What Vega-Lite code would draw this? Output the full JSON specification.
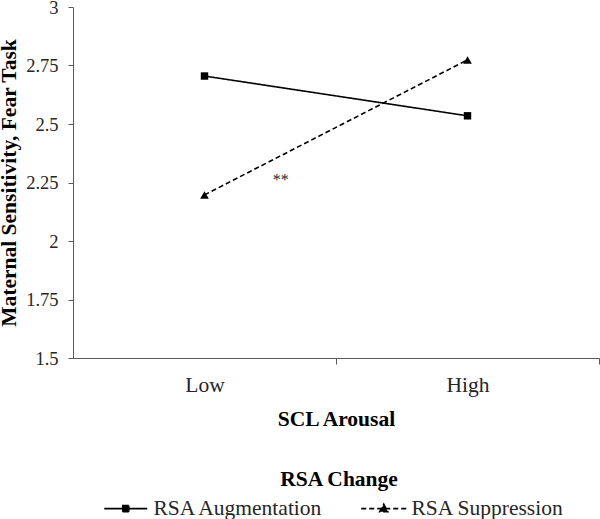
{
  "$schema": "https://vega.github.io/schema/vega-lite/v6.json",
  "width": 526,
  "height": 351,
  "autosize": "none",
  "padding": {"left": 73, "top": 7, "right": 1, "bottom": 161},
  "config": {
    "view": {"stroke": null},
    "font": "Liberation Serif",
    "axis": {
      "grid": false,
      "domainColor": "#595959",
      "tickColor": "#595959",
      "labelColor": "#262626",
      "labelFont": "Liberation Serif",
      "titleFont": "Liberation Serif",
      "titleColor": "black",
      "titleFontWeight": "bold"
    }
  },
  "data": {
    "values": [
      {"series": "RSA Augmentation", "arousal": "Low", "pos": 0.5, "value": 2.705},
      {"series": "RSA Augmentation", "arousal": "High", "pos": 1.5, "value": 2.535},
      {"series": "RSA Suppression", "arousal": "Low", "pos": 0.5, "value": 2.197},
      {"series": "RSA Suppression", "arousal": "High", "pos": 1.5, "value": 2.774}
    ]
  },
  "layer": [
    {
      "mark": {"type": "line", "color": "black", "strokeWidth": 1.6},
      "encoding": {
        "x": {
          "field": "pos",
          "type": "quantitative",
          "scale": {"domain": [0, 2], "nice": false, "zero": false},
          "axis": {
            "title": "SCL Arousal",
            "values": [0.5, 1, 1.5, 2],
            "labelExpr": "datum.value == 0.5 ? 'Low' : datum.value == 1.5 ? 'High' : ''",
            "tickOpacity": {"condition": {"test": "datum.value == 1 || datum.value == 2", "value": 1}, "value": 0},
            "tickSize": 6,
            "labelFontSize": 21.5,
            "labelPadding": 10,
            "labelFlush": false,
            "labelOverlap": false,
            "titleFontSize": 21.5,
            "titlePadding": 13
          }
        },
        "y": {
          "field": "value",
          "type": "quantitative",
          "scale": {"domain": [1.5, 3], "nice": false, "zero": false},
          "axis": {
            "title": "Maternal Sensitivity, Fear Task",
            "values": [1.5, 1.75, 2, 2.25, 2.5, 2.75, 3],
            "labelExpr": "datum.value",
            "tickSize": 5,
            "labelFontSize": 18.5,
            "labelPadding": 10,
            "labelFlush": false,
            "labelOverlap": false,
            "titleFontSize": 21.5,
            "titlePadding": 5
          }
        },
        "strokeDash": {
          "field": "series",
          "type": "nominal",
          "scale": {"domain": ["RSA Augmentation", "RSA Suppression"], "range": [[1, 0], [5, 3]]},
          "legend": {
            "orient": "none",
            "legendX": 42,
            "legendY": 462,
            "direction": "horizontal",
            "title": "RSA Change",
            "titleFontSize": 21.5,
            "titleFontWeight": "bold",
            "titleColor": "black",
            "titleAnchor": "middle",
            "titlePadding": 7,
            "labelFontSize": 21.5,
            "labelColor": "#262626",
            "labelLimit": 400,
            "labelOffset": 17,
            "columnPadding": 34,
            "symbolSize": 100,
            "symbolStrokeWidth": 1.6,
            "symbolStrokeColor": "black",
            "encode": {
              "symbols": {
                "update": {
                  "shape": {"signal": "datum.value === 'RSA Augmentation' ? 'M-4.3,0L4.3,0M-0.6,-0.6L0.6,-0.6L0.6,0.6L-0.6,0.6Z' : 'M-4.5,0L4.5,0M0,-0.9L0.8,0.6L-0.8,0.6Z'"},
                  "size": {"value": 100},
                  "fill": {"value": "black"},
                  "stroke": {"value": "black"},
                  "strokeWidth": {"value": 1.6},
                  "strokeOpacity": {"value": 1},
                  "opacity": {"value": 1}
                }
              }
            }
          }
        }
      }
    },
    {
      "transform": [{"filter": "datum.series === 'RSA Augmentation'"}],
      "mark": {"type": "point", "shape": "square", "size": 55, "filled": true, "color": "black", "opacity": 1},
      "encoding": {
        "x": {"field": "pos", "type": "quantitative"},
        "y": {"field": "value", "type": "quantitative"}
      }
    },
    {
      "transform": [{"filter": "datum.series === 'RSA Suppression'"}],
      "mark": {"type": "point", "shape": "triangle-up", "size": 75, "filled": true, "color": "black", "opacity": 1},
      "encoding": {
        "x": {"field": "pos", "type": "quantitative"},
        "y": {"field": "value", "type": "quantitative"}
      }
    },
    {
      "data": {"values": [{"pos": 0.79, "value": 2.24, "label": "**"}]},
      "mark": {"type": "text", "fontSize": 16, "font": "Liberation Serif", "color": "#262626", "baseline": "alphabetic", "align": "center"},
      "encoding": {
        "x": {"field": "pos", "type": "quantitative"},
        "y": {"field": "value", "type": "quantitative"},
        "text": {"field": "label"}
      }
    }
  ]
}
